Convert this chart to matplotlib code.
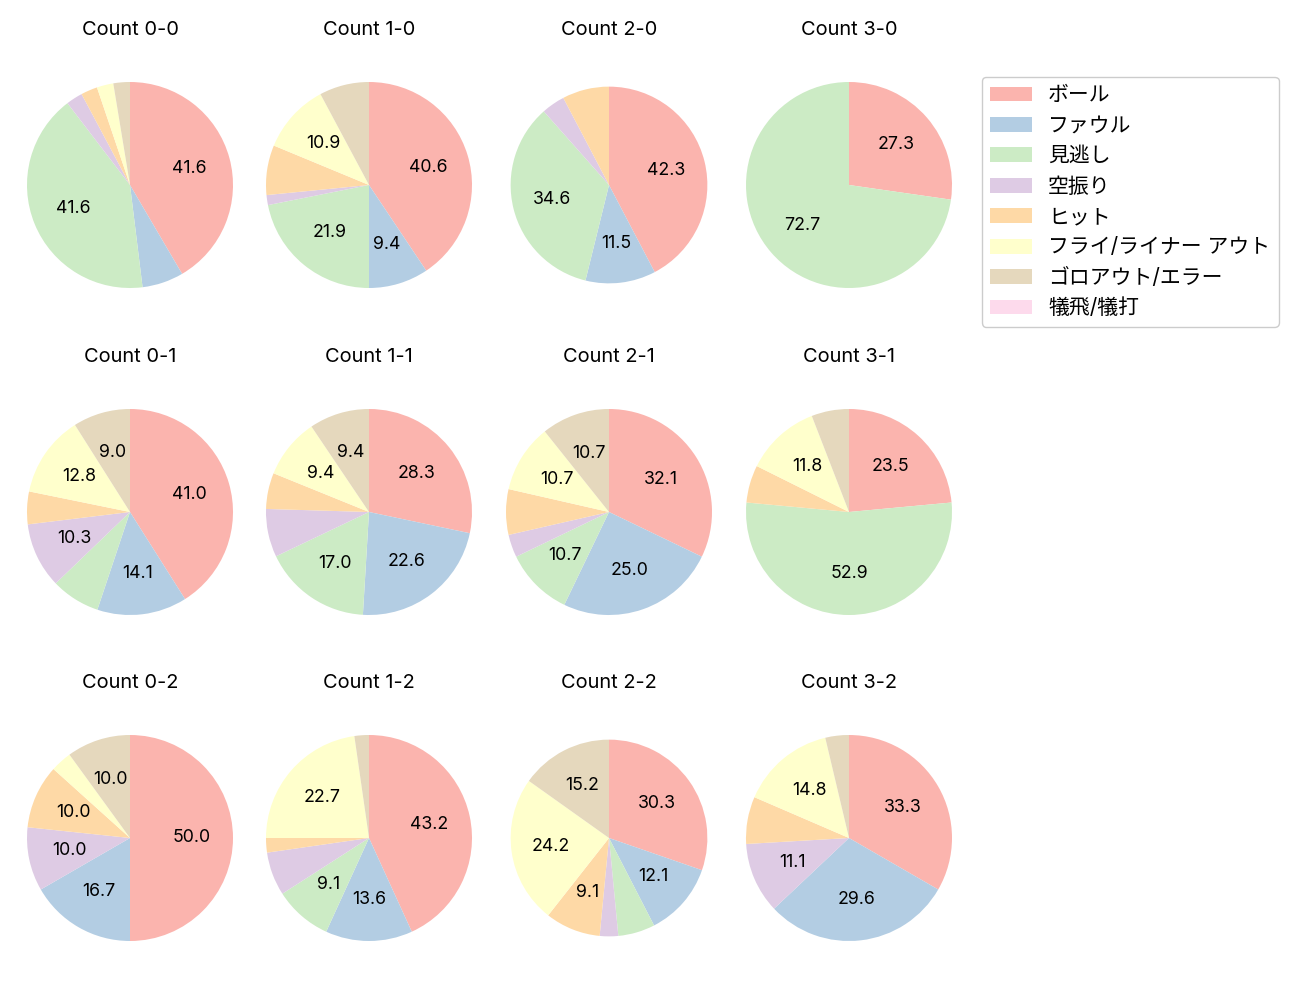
import matplotlib
matplotlib.use("Agg")
import matplotlib.pyplot as plt
from matplotlib.patches import Patch

plt.rcParams['font.family'] = ['Inter', 'Noto Sans CJK JP', 'DejaVu Sans']

categories = ["ボール", "ファウル", "見逃し", "空振り", "ヒット",
              "フライ/ライナー アウト", "ゴロアウト/エラー", "犠飛/犠打"]
colors = ["#fbb4ae", "#b3cde3", "#ccebc5", "#decbe4", "#fed9a6",
          "#ffffcc", "#e5d8bd", "#fddaec"]

titles = [["Count 0-0", "Count 1-0", "Count 2-0", "Count 3-0"],
          ["Count 0-1", "Count 1-1", "Count 2-1", "Count 3-1"],
          ["Count 0-2", "Count 1-2", "Count 2-2", "Count 3-2"]]

# counts per category (ball, foul, called, swinging, hit, fly/liner, grounder, sac)
c00 = [32, 5, 32, 2, 2, 2, 2, 0]
c10 = [26, 6, 14, 1, 5, 7, 5, 0]
c20 = [11, 3, 9, 1, 2, 0, 0, 0]
c30 = [3, 0, 8, 0, 0, 0, 0, 0]
c01 = [32, 11, 6, 8, 4, 10, 7, 0]
c11 = [15, 12, 9, 4, 3, 5, 5, 0]
c21 = [9, 7, 3, 1, 2, 3, 3, 0]
c31 = [4, 0, 9, 0, 1, 2, 1, 0]
c02 = [15, 5, 0, 3, 3, 1, 3, 0]
c12 = [19, 6, 4, 3, 1, 10, 1, 0]
c22 = [10, 4, 2, 1, 3, 8, 5, 0]
c32 = [9, 8, 0, 3, 2, 4, 1, 0]

data = [[c00, c10, c20, c30],
        [c01, c11, c21, c31],
        [c02, c12, c22, c32]]
radii = [[1.0, 1.0, 0.955, 1.0],
         [1.0, 1.0, 1.0, 1.0],
         [1.0, 1.0, 0.955, 1.0]]

W, H = 1300, 1000
fig = plt.figure(figsize=(13, 10), dpi=100)

cx = [130, 369, 609, 849]
cy = [185, 512, 838]
R = 103.0
box = 250.0
lim = (box / 2) / R

def fmt(p):
    return "%.1f" % p if p >= 8.5 else ""

for r in range(3):
    for c in range(4):
        x0 = (cx[c] - box / 2) / W
        y0 = 1 - (cy[r] + box / 2) / H
        ax = fig.add_axes([x0, y0, box / W, box / H])
        vals = data[r][c]
        idx = [i for i, v in enumerate(vals) if v > 0]
        ax.pie([vals[i] for i in idx], colors=[colors[i] for i in idx],
               startangle=90, counterclock=False, autopct=fmt,
               pctdistance=0.6, radius=radii[r][c],
               textprops={'fontsize': 12.8})
        ax.set_xlim(-lim, lim)
        ax.set_ylim(-lim, lim)
        ax.set_aspect('equal')
        ax.axis('off')
        ax.text(0, 155 / R, titles[r][c], ha='center', va='center',
                fontsize=14.4, clip_on=False)

handles = [Patch(facecolor=colors[i], label=categories[i]) for i in range(8)]
fig.legend(handles=handles, loc='upper left',
           bbox_to_anchor=(982 / W, 1 - 77 / H), borderaxespad=0,
           fontsize=15, handlelength=2.0, handleheight=0.72,
           labelspacing=0.5, handletextpad=0.77, framealpha=1,
           edgecolor='#cccccc')

fig.savefig("out.png", dpi=100)
